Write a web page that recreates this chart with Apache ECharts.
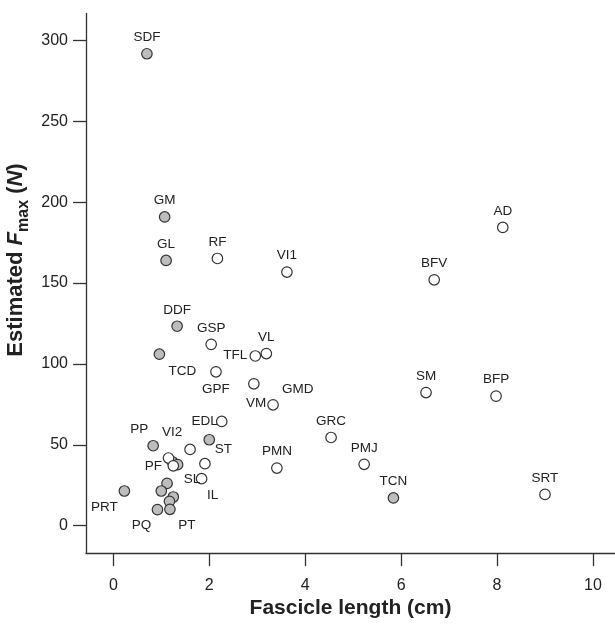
<!DOCTYPE html>
<html>
<head>
<meta charset="utf-8">
<script src="https://cdn.jsdelivr.net/npm/echarts@6/dist/echarts.min.js"></script>
<style>html,body{margin:0;padding:0;background:#fff}#c{width:615px;height:624px}</style>
</head>
<body>
<div id="c"></div>
<script>
// Filled (grey) muscles
const filledNames = ['SDF','GM','GL','DDF','TCD','PP','ST','','','PRT','','','','','PQ','PT','TCN'];
const filledX     = [0.70, 1.07, 1.10, 1.33, 0.96, 0.83, 2.00, 1.23, 1.34, 0.23, 1.12, 1.00, 1.25, 1.17, 0.92, 1.18, 5.84];
const filledY     = [291.8, 190.9, 164.0, 123.3, 106.0, 49.4, 53.1, 39.5, 37.7, 21.4, 26.1, 21.4, 17.7, 15.0, 9.9, 10.1, 17.1];

// Open (white) muscles
const openNames = ['RF','VI1','AD','BFV','GSP','TFL','VL','GPF','GMD','VM','EDL','VI2','SL','IL','PF','','PMN','GRC','PMJ','SM','BFP','SRT'];
const openX     = [2.17, 3.62, 8.12, 6.69, 2.04, 2.96, 3.19, 2.14, 2.93, 3.33, 2.26, 1.60, 1.91, 1.84, 1.15, 1.25, 3.41, 4.54, 5.23, 6.52, 7.98, 9.00];
const openY     = [165.2, 156.8, 184.4, 152.0, 112.1, 104.9, 106.4, 95.1, 87.7, 74.7, 64.4, 47.1, 38.3, 29.0, 41.8, 37.0, 35.6, 54.5, 37.9, 82.3, 80.1, 19.3];

// Axis tick values
const xTicks = [0, 2, 4, 6, 8, 10];
const yTicks = [0, 50, 100, 150, 200, 250, 300];

// Label placement (styling): offsets of label centre from the marker centre
const labelOffsets = {
  TCD: [23, 17], PP: [-14, -16], ST: [14, 10], PRT: [-20, 16], PQ: [-16, 16], PT: [17, 16],
  TFL: [-20, -1], GPF: [0, 17], GMD: [44, 5], VM: [-17, -2], EDL: [-17, 0], VI2: [-18, -17],
  SL: [-13, 16], IL: [11, 17], PF: [-15, 8]
};

const FONT = '"Liberation Sans", Arial, Helvetica, sans-serif';

function buildData(names, xs, ys) {
  return names.map((n, i) => {
    const item = { name: n, value: [xs[i], ys[i]] };
    if (!n) {
      item.label = { show: false };
    } else if (labelOffsets[n]) {
      item.label = { position: 'inside', offset: labelOffsets[n], align: 'center', verticalAlign: 'middle' };
    }
    return item;
  });
}

const labelStyle = {
  show: true, formatter: '{b}', position: 'top', distance: 3.5,
  color: '#222', fontSize: 13.5, fontFamily: FONT
};

const chart = echarts.init(document.getElementById('c'), null, { renderer: 'canvas' });
chart.setOption({
  animation: false,
  backgroundColor: '#fff',
  grid: { left: 86, right: 0, top: 13.5, bottom: 70, containLabel: false },
  xAxis: {
    type: 'value', min: -0.57, max: 10.46,
    name: 'Fascicle length (cm)', nameLocation: 'middle', nameGap: 43,
    nameTextStyle: { fontSize: 21, fontWeight: 'bold', color: '#222', fontFamily: FONT },
    axisLine: { show: true, onZero: false, lineStyle: { color: '#333', width: 1.3 } },
    axisTick: { show: true, length: 13, lineStyle: { color: '#333', width: 1.3 }, customValues: xTicks },
    axisLabel: { fontSize: 16, color: '#222', margin: 24, fontFamily: FONT, customValues: xTicks, showMinLabel: true, showMaxLabel: true },
    splitLine: { show: false }
  },
  yAxis: {
    type: 'value', min: -17, max: 316.7,
    axisLine: { show: true, onZero: false, lineStyle: { color: '#333', width: 1.3 } },
    axisTick: { show: true, length: 13, lineStyle: { color: '#333', width: 1.3 }, customValues: yTicks },
    axisLabel: { fontSize: 16, color: '#222', margin: 18, fontFamily: FONT, customValues: yTicks },
    splitLine: { show: false }
  },
  graphic: [{
    type: 'text', x: 18, y: 260, rotation: Math.PI / 2,
    style: {
      text: '{b|Estimated }{i|F}{sub|max}{b| (}{i|N}{b|)}',
      align: 'center', verticalAlign: 'middle', fill: '#222',
      fontFamily: FONT, fontSize: 22, fontWeight: 'bold',
      rich: {
        b: { fontSize: 22, fontWeight: 'bold', fontFamily: FONT, fill: '#222', lineHeight: 22, verticalAlign: 'top' },
        i: { fontSize: 22, fontWeight: 'bold', fontStyle: 'italic', fontFamily: FONT, fill: '#222', lineHeight: 22, verticalAlign: 'top' },
        sub: { fontSize: 16, fontWeight: 'bold', fontFamily: FONT, fill: '#222', lineHeight: 27, verticalAlign: 'bottom' }
      }
    }
  }],
  series: [
    {
      type: 'scatter', name: 'filled', symbol: 'circle', symbolSize: 10.5,
      itemStyle: { color: '#bdbdbd', borderColor: '#333', borderWidth: 1.2, opacity: 1 },
      label: labelStyle,
      emphasis: { disabled: true },
      data: buildData(filledNames, filledX, filledY)
    },
    {
      type: 'scatter', name: 'open', symbol: 'circle', symbolSize: 10.5,
      itemStyle: { color: '#fff', borderColor: '#333', borderWidth: 1.2, opacity: 1 },
      label: labelStyle,
      emphasis: { disabled: true },
      data: buildData(openNames, openX, openY)
    }
  ]
});
</script>
</body>
</html>
